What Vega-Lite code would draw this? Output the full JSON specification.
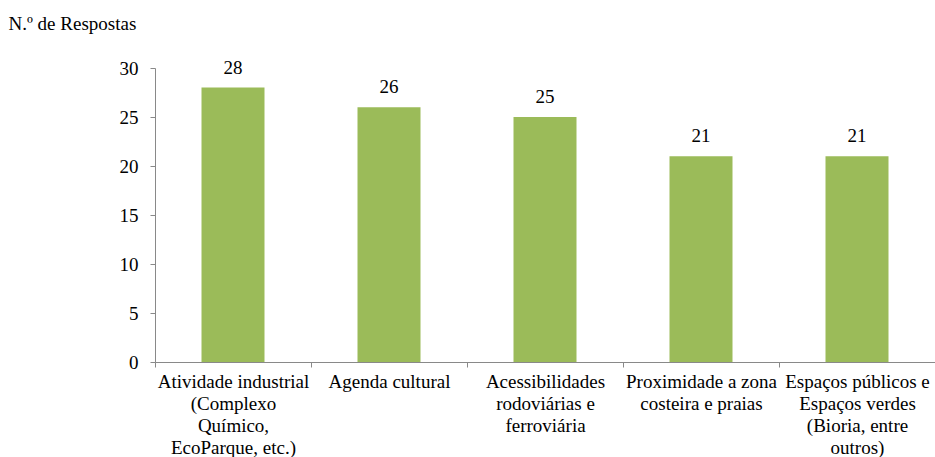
{
  "$schema": "https://vega.github.io/schema/vega-lite/v6.json",
  "width": 780,
  "height": 294,
  "autosize": {"type": "none"},
  "padding": {"left": 155, "top": 68, "right": 0, "bottom": 95},
  "background": "white",
  "config": {
    "view": {"stroke": null},
    "font": "Liberation Serif",
    "axis": {
      "labelFont": "Liberation Serif",
      "titleFont": "Liberation Serif",
      "labelFontSize": 19,
      "titleFontSize": 19,
      "labelColor": "#000000",
      "titleColor": "#000000",
      "titleFontWeight": "normal",
      "domainColor": "#898989",
      "tickColor": "#898989",
      "grid": false
    }
  },
  "data": {
    "values": [
      {"categoria": "Atividade industrial (Complexo Químico, EcoParque, etc.)", "respostas": 28},
      {"categoria": "Agenda cultural", "respostas": 26},
      {"categoria": "Acessibilidades rodoviárias e ferroviária", "respostas": 25},
      {"categoria": "Proximidade a zona costeira e praias", "respostas": 21},
      {"categoria": "Espaços públicos e Espaços verdes (Bioria, entre outros)", "respostas": 21}
    ]
  },
  "encoding": {
    "x": {
      "field": "categoria",
      "type": "nominal",
      "sort": null,
      "scale": {"paddingInner": 0, "paddingOuter": 0},
      "axis": {
        "title": null,
        "labelAngle": 0,
        "labelAlign": "center",
        "labelBaseline": "top",
        "labelPadding": 5,
        "labelLineHeight": 22,
        "tickBand": "extent",
        "tickSize": 5,
        "labelLimit": 0,
        "labelExpr": "datum.label == 'Atividade industrial (Complexo Químico, EcoParque, etc.)' ? ['Atividade industrial', '(Complexo', 'Químico,', 'EcoParque, etc.)'] : datum.label == 'Acessibilidades rodoviárias e ferroviária' ? ['Acessibilidades', 'rodoviárias e', 'ferroviária'] : datum.label == 'Proximidade a zona costeira e praias' ? ['Proximidade a zona', 'costeira e praias'] : datum.label == 'Espaços públicos e Espaços verdes (Bioria, entre outros)' ? ['Espaços públicos e', 'Espaços verdes', '(Bioria, entre', 'outros)'] : datum.label"
      }
    },
    "y": {
      "field": "respostas",
      "type": "quantitative",
      "scale": {"domain": [0, 30]},
      "axis": {
        "values": [0, 5, 10, 15, 20, 25, 30],
        "tickSize": 5,
        "labelPadding": 12,
        "title": "N.º de Respostas",
        "titleAngle": 0,
        "titleAlign": "left",
        "titleBaseline": "alphabetic",
        "titleX": -147,
        "titleY": -39
      }
    }
  },
  "layer": [
    {"mark": {"type": "bar", "color": "#9BBB59", "width": 63}},
    {
      "mark": {"type": "text", "baseline": "alphabetic", "dy": -14, "fontSize": 19, "font": "Liberation Serif", "color": "#000000"},
      "encoding": {"text": {"field": "respostas", "type": "quantitative"}}
    }
  ]
}
